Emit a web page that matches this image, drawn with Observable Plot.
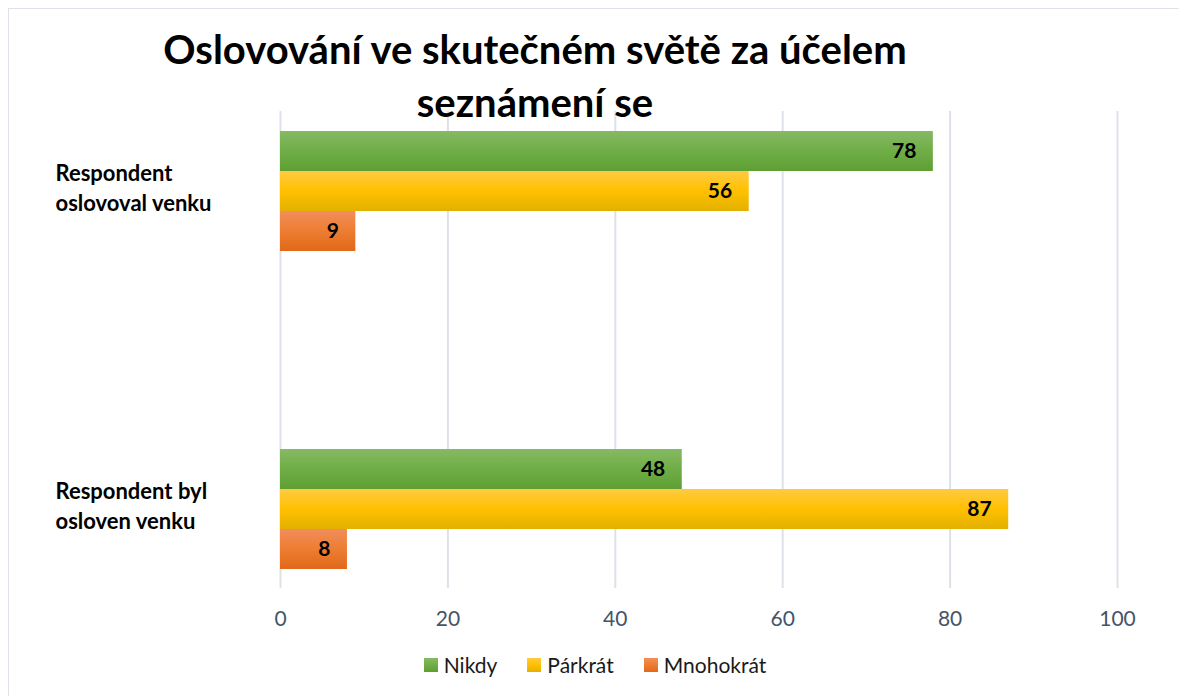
<!DOCTYPE html>
<html>
<head>
<meta charset="utf-8">
<script src="https://cdn.jsdelivr.net/npm/d3@7"></script>
<script src="https://cdn.jsdelivr.net/npm/@observablehq/plot@0.6"></script>
<style>
  html, body { margin: 0; padding: 0; background: #fff; overflow: hidden; }
  #wrap { position: relative; width: 1179px; height: 696px; font-family: Lato, "Open Sans", sans-serif; }
  #chart { position: absolute; left: 0; top: 0; }
  #frame { position: absolute; left: 8px; top: 8px; width: 1300px; height: 800px; border: 1.5px solid #dde1e8; pointer-events: none; }
  #title { position: absolute; left: 0; width: 1070px; top: 23px; text-align: center; font-weight: 700; font-size: 40px; line-height: 53px; color: #000; }
  #legend { position: absolute; left: 0; width: 1190px; top: 652px; display: flex; justify-content: center; gap: 30px; font-size: 21px; color: #1a1a1a; }
  #legend .item { display: flex; align-items: center; gap: 6px; line-height: 26px; }
  #legend .sw { width: 14px; height: 14px; display: inline-block; }
</style>
</head>
<body>
<div id="wrap">
  <div id="chart"></div>
  <div id="title">Oslovování ve skutečném světě za účelem<br>seznámení se</div>
  <div id="legend"></div>
  <div id="frame"></div>
</div>
<script>
// ---- data ----
const categories = ["Respondent oslovoval venku", "Respondent byl osloven venku"];
const categoryLabels = ["Respondent\noslovoval venku", "Respondent byl\nosloven venku"];
const seriesNames = ["Nikdy", "Párkrát", "Mnohokrát"];
const nikdy = [78, 48];
const parkrat = [56, 87];
const mnohokrat = [9, 8];
const xTicks = [0, 20, 40, 60, 80, 100];
const seriesValues = [nikdy, parkrat, mnohokrat];

// colours (top, middle, bottom of gradient)
const gradients = [
  ["#85ba63", "#70ad47", "#5e9f33"],
  ["#ffca42", "#ffc000", "#e3b000"],
  ["#f28d5c", "#ed7d31", "#e2681a"]
];

const table = [];
seriesNames.forEach((s, i) => categories.forEach((c, j) => table.push({series: s, si: i, category: c, value: seriesValues[i][j]})));

const barH = 40;
const marks = [
  Plot.gridX(xTicks, {stroke: "#dde1e8", strokeOpacity: 1, strokeWidth: 2}),
  Plot.axisX(xTicks, {anchor: "bottom", label: null, tickSize: 0, tickPadding: 23, fontSize: 21, color: "#44546a", fill: "#44546a"})
];
seriesNames.forEach((s, i) => {
  const d = table.filter(r => r.si === i);
  marks.push(Plot.barX(d, {x: "value", y: "category", fill: `url(#grad${i})`, insetTop: 139, insetBottom: 139, dy: (i - 1) * barH}));
  marks.push(Plot.text(d, {x: "value", y: "category", text: d => String(d.value), textAnchor: "end", dx: -17, dy: (i - 1) * barH, fontSize: 21, fontWeight: "bold", fill: "#000"}));
});
marks.push(Plot.text(categories, {y: d => d, text: (d, k) => categoryLabels[k], frameAnchor: "left", textAnchor: "start", dx: -225, dy: -5, fontSize: 22, fontWeight: "bold", lineHeight: 1.36, fill: "#000"}));

const plot = Plot.plot({
  width: 1179,
  height: 696,
  marginLeft: 280,
  marginRight: 62,
  marginTop: 111,
  marginBottom: 108,
  style: {fontFamily: "Lato, 'Open Sans', sans-serif", background: "transparent"},
  x: {domain: [0, 100], axis: null},
  y: {domain: categories, range: [32, 668], padding: 0, axis: null},
  marks
});

const svg = d3.select(plot);
const defs = svg.insert("defs", ":first-child");
gradients.forEach((g, i) => {
  const lg = defs.append("linearGradient").attr("id", `grad${i}`).attr("x1", 0).attr("y1", 0).attr("x2", 0).attr("y2", 1);
  lg.append("stop").attr("offset", "0%").attr("stop-color", g[0]);
  lg.append("stop").attr("offset", "50%").attr("stop-color", g[1]);
  lg.append("stop").attr("offset", "100%").attr("stop-color", g[2]);
});
document.getElementById("chart").appendChild(plot);

const legend = d3.select("#legend");
seriesNames.forEach((s, i) => {
  const it = legend.append("div").attr("class", "item");
  it.append("span").attr("class", "sw").style("background", `linear-gradient(${gradients[i][0]}, ${gradients[i][1]}, ${gradients[i][2]})`);
  it.append("span").text(s);
});
</script>
</body>
</html>
